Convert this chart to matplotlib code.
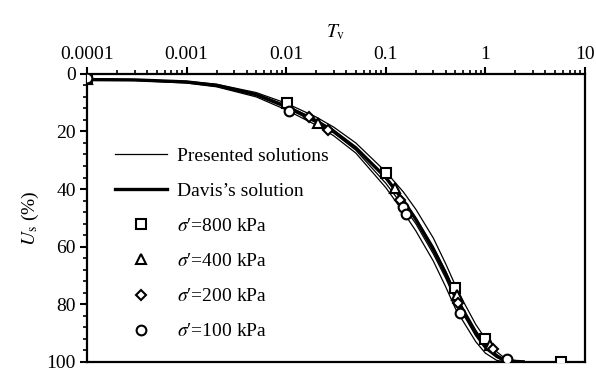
import matplotlib
matplotlib.use("Agg")
from matplotlib import pyplot as plt
from matplotlib.lines import Line2D
from matplotlib.ticker import LogLocator, MultipleLocator, FixedLocator, FixedFormatter

plt.rcParams['font.family'] = ['Liberation Serif', 'DejaVu Serif']
plt.rcParams['mathtext.fontset'] = 'stix'

# time factor grid of the curves
tv = [0.0001, 0.0003, 0.001, 0.002, 0.005, 0.01, 0.02, 0.03, 0.05, 0.1, 0.15,
      0.2, 0.3, 0.4, 0.5, 0.6, 0.8, 1.0, 1.3, 1.6, 2.4]

# presented solutions, degree of settlement (%)
us_800 = [1.7, 2.0, 2.6, 3.6, 6.5, 10.2, 15.0, 18.5, 24.0, 34.0, 41.0, 47.0,
          57.0, 66.0, 73.5, 79.0, 87.0, 92.0, 96.5, 99.0, 100]
us_400 = [1.8, 2.1, 2.8, 3.9, 7.0, 11.0, 16.0, 19.5, 25.5, 36.5, 44.0, 50.0,
          60.0, 68.5, 76.0, 81.5, 89.0, 94.0, 97.5, 99.5, 100]
us_200 = [1.9, 2.2, 3.0, 4.2, 7.5, 11.8, 17.0, 20.5, 26.5, 38.0, 46.0, 52.0,
          62.5, 71.0, 78.5, 83.5, 91.0, 95.5, 98.5, 100, 100]
us_100 = [2.0, 2.3, 3.2, 4.5, 8.0, 12.5, 17.8, 21.5, 27.5, 39.5, 48.0, 54.5,
          65.0, 74.0, 81.5, 86.0, 93.0, 97.0, 99.5, 100, 100]
# Davis's solution
us_davis = [2.0, 2.1, 2.8, 4.0, 7.2, 11.3, 16.3, 20.0, 25.7, 36.0, 44.0, 50.5,
            61.0, 69.5, 77.0, 82.5, 90.0, 94.5, 98.0, 99.7, 100]

# marked points
pt_800_t = [0.0001, 0.0102, 0.1, 0.5, 1.0, 5.8]
pt_800_u = [1.7, 10.2, 34.4, 74.5, 92.0, 100]
pt_400_t = [0.0001, 0.021, 0.124, 0.52, 1.1]
pt_400_u = [1.8, 17.0, 39.5, 76.9, 94.0]
pt_200_t = [0.0001, 0.017, 0.026, 0.138, 0.53, 1.18]
pt_200_u = [1.9, 15.0, 19.5, 43.9, 79.6, 95.6]
pt_100_t = [0.0001, 0.0107, 0.15, 0.16, 0.55, 1.65]
pt_100_u = [1.5, 12.9, 46.3, 48.6, 83.0, 99.0]

legend_labels = ["Presented solutions", "Davis\u2019s solution",
                 "$\\sigma$\u2032=800 kPa", "$\\sigma$\u2032=400 kPa",
                 "$\\sigma$\u2032=200 kPa", "$\\sigma$\u2032=100 kPa"]

fig = plt.figure(figsize=(5.96, 3.73), dpi=100)
ax = fig.add_axes([0.146, 0.03, 0.8355, 0.772])

for us in (us_800, us_400, us_200, us_100):
    ax.plot(tv, us, color='black', lw=0.9, zorder=2)
ax.plot(tv, us_davis, color='black', lw=2.4, zorder=3)

mk = dict(linestyle='none', mfc='white', mec='black', mew=1.5, zorder=4)
ax.plot(pt_800_t, pt_800_u, marker='s', ms=7, **mk)
ax.plot(pt_400_t, pt_400_u, marker='^', ms=7, **mk)
ax.plot(pt_200_t, pt_200_u, marker='D', ms=5, **mk)
ax.plot(pt_100_t, pt_100_u, marker='o', ms=7, **mk)

ax.set_xscale('log')
ax.set_xlim(0.0001, 10)
ax.set_ylim(100, 0)

ax.xaxis.tick_top()
ax.xaxis.set_label_position('top')
ax.xaxis.set_major_locator(FixedLocator([0.0001, 0.001, 0.01, 0.1, 1, 10]))
ax.xaxis.set_major_formatter(FixedFormatter(['0.0001', '0.001', '0.01', '0.1', '1', '10']))
ax.xaxis.set_minor_locator(LogLocator(base=10, subs=range(2, 10), numticks=20))
ax.yaxis.set_major_locator(MultipleLocator(20))
ax.yaxis.set_minor_locator(MultipleLocator(4))

ax.tick_params(which='major', direction='out', length=5, width=1.5, labelsize=14, pad=3)
ax.tick_params(which='minor', direction='out', length=3, width=1.2)
ax.tick_params(axis='x', which='both', top=True, bottom=False)
ax.tick_params(axis='y', which='both', left=True, right=False)

for s in ax.spines.values():
    s.set_linewidth(1.6)

ax.set_xlabel(r"$T_{\rm v}$", fontsize=14, labelpad=6)
ax.set_ylabel(r"$U_{\rm s}$ (%)", fontsize=14, labelpad=4)

handles = [Line2D([], [], color='black', lw=0.9),
           Line2D([], [], color='black', lw=2.4),
           Line2D([], [], marker='s', ms=7, **mk),
           Line2D([], [], marker='^', ms=7, **mk),
           Line2D([], [], marker='D', ms=5, **mk),
           Line2D([], [], marker='o', ms=7, **mk)]
ax.legend(handles, legend_labels, loc='upper left', bbox_to_anchor=(0.056, 0.745),
          frameon=False, fontsize=14, handlelength=2.7, handletextpad=0.5,
          labelspacing=0.9, borderaxespad=0, borderpad=0)

fig.savefig('out.png', dpi=100)
